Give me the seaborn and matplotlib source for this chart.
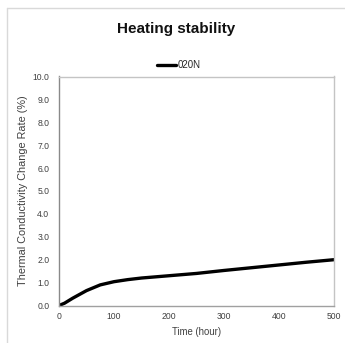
import matplotlib
matplotlib.use("Agg")
import matplotlib.pyplot as plt
from matplotlib.lines import Line2D
import pandas as pd
import seaborn as sns

# Heating stability test: conductivity change over time
hours = [0, 10, 25, 50, 75, 100, 125, 150, 200, 250, 300, 350, 400, 450, 500]
change_rate = [0.0, 0.1, 0.32, 0.65, 0.9, 1.04, 1.13, 1.2, 1.3, 1.4, 1.53, 1.65, 1.77, 1.89, 2.0]
series_name = "020N"
y_ticks = [0, 1, 2, 3, 4, 5, 6, 7, 8, 9, 10]
x_ticks = [0, 100, 200, 300, 400, 500]

df = pd.DataFrame({"Time (hour)": hours, "rate": change_rate, "sample": series_name})

sns.set_theme(style="white")
plt.rcParams["font.family"] = ["Liberation Sans", "DejaVu Sans"]

W, H = 345, 343
fig = plt.figure(figsize=(W / 100, H / 100), dpi=100)
ax = fig.add_axes([59 / W, 1 - 305.5 / H, (334 - 59) / W, (305.5 - 76.5) / H])

sns.lineplot(data=df, x="Time (hour)", y="rate", hue="sample",
             palette=["black"], linewidth=2.4, ax=ax)

ax.set_xlim(0, 500)
ax.set_ylim(0, 10)
ax.set_xticks(x_ticks)
ax.set_yticks(y_ticks)
ax.set_yticklabels([f"{v:.1f}" for v in y_ticks])
ax.tick_params(axis="both", length=0, labelsize=6.2, labelcolor="#404040")
ax.tick_params(axis="y", pad=7)
ax.tick_params(axis="x", pad=5)
ax.set_xlabel("Time (hour)", fontsize=6.9, color="#404040", labelpad=4)
ax.set_ylabel("Thermal Conductivity Change Rate (%)", fontsize=7.8, color="#404040", labelpad=3)

for side, sp in ax.spines.items():
    sp.set_visible(True)
    sp.set_linewidth(1.0)
    sp.set_color("#c4c4c4")
ax.spines["left"].set_color("#8a8a8a")
ax.spines["bottom"].set_color("#a0a0a0")

ax.legend(loc="center", bbox_to_anchor=(179 / W, 1 - 65 / H), bbox_transform=fig.transFigure,
          frameon=False, fontsize=6.9, handlelength=2.0, handletextpad=0.2,
          borderpad=0, borderaxespad=0)

fig.text(176 / W, 1 - 28.5 / H, "Heating stability", ha="center", va="center",
         fontsize=11, fontweight="bold", color="#111111")

# outer chart-area border (top and left edges)
fig.add_artist(Line2D([7 / W, 1.0], [1 - 8 / H, 1 - 8 / H], transform=fig.transFigure,
                      color="#d9d9d9", linewidth=1.0))
fig.add_artist(Line2D([7 / W, 7 / W], [0.0, 1 - 8 / H], transform=fig.transFigure,
                      color="#d9d9d9", linewidth=1.0))

fig.savefig("out.png", dpi=100)
